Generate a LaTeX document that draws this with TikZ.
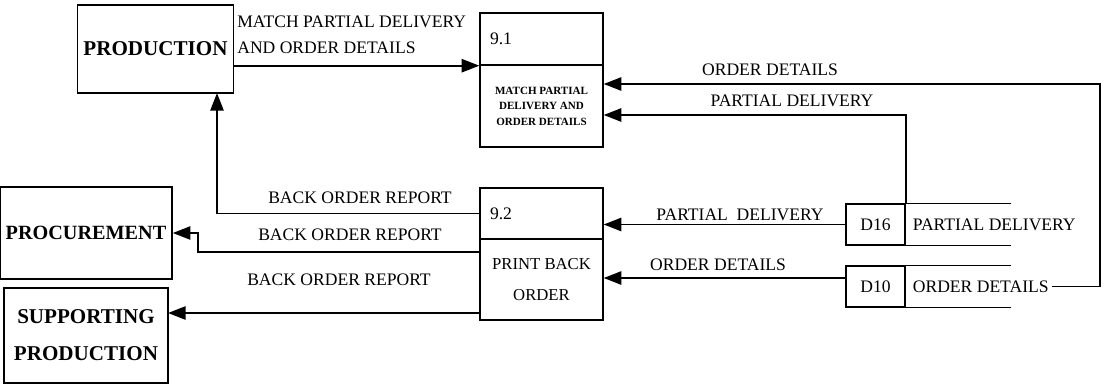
\documentclass[tikz,border=0pt]{standalone}
\usepackage{fontspec}
\setmainfont{Liberation Serif}
\usetikzlibrary{arrows.meta}
\tikzset{
  entity/.style={draw,line width=0.8pt,align=center,font=\fontsize{12}{15}\selectfont\bfseries},
  procid/.style={draw,line width=0.8pt,minimum width=2.46cm,text width=2.06cm,inner xsep=0.2cm,align=left,font=\fontsize{10}{12}\selectfont},
  procbody/.style={draw,line width=0.8pt,minimum width=2.46cm,align=center},
  storeid/.style={draw,line width=0.6pt,minimum width=1.18cm,minimum height=0.82cm,font=\fontsize{10}{12}\selectfont},
  storename/.style={anchor=west,inner sep=0pt,font=\fontsize{10}{12}\selectfont},
  flow/.style={line width=1.1pt,-{Triangle[length=10pt,width=7.5pt]}},
  flowlabel/.style={font=\fontsize{10}{14.7}\selectfont,align=left,inner sep=0pt}
}
\begin{document}
\begin{tikzpicture}[x=0.02cm,y=-0.02cm]
  \useasboundingbox (0,0) rectangle (1104,385);
  % external entities
  \node[entity,minimum width=3.1cm,minimum height=1.76cm] (prod) at (155.5,49) {PRODUCTION};
  \node[entity,minimum width=3.2cm,minimum height=1.84cm,font=\fontsize{11.5}{14}\selectfont\bfseries] (proc) at (86,233) {PROCUREMENT};
  \node[entity,minimum width=3.28cm,minimum height=1.9cm] (supp) at (86,335.5) {SUPPORTING\\[6pt]PRODUCTION};
  % processes
  \node[procid,minimum height=1.04cm] (p91id) at (541.5,39) {9.1};
  \node[procbody,minimum height=1.64cm,font=\fontsize{6.3}{8.8}\selectfont\bfseries] (p91) at (541.5,106) {MATCH PARTIAL\\DELIVERY AND\\ORDER DETAILS};
  \node[procid,minimum height=1.02cm] (p92id) at (541.5,213.5) {9.2};
  \node[procbody,minimum height=1.62cm,font=\fontsize{9.5}{17.6}\selectfont] (p92) at (541.5,279.5) {PRINT BACK\\ORDER};
  % data stores
  \node[storeid] (d16) at (875.5,224.5) {D16};
  \node[storeid] (d10) at (875.5,286.5) {D10};
  \draw[line width=0.6pt] (d16.north east) -- ++(105,0) (d16.south east) -- ++(105,0);
  \draw[line width=0.6pt] (d10.north east) -- ++(105,0) (d10.south east) -- ++(105,0);
  \node[storename] (d16name) at ([xshift=0.14cm]d16.east) {PARTIAL DELIVERY};
  \node[storename] (d10name) at ([xshift=0.14cm]d10.east) {ORDER DETAILS};
  % flows
  \coordinate (odturn) at (1100,84);
  \coordinate (pdturn) at (907,115);
  \coordinate (d10out) at ([yshift=0.17cm]d10.west);
  \coordinate (prodin) at (217,93);
  \coordinate (procturn) at (198,252);
  \coordinate (suppin) at (168,313);
  \draw[flow] (prod.east |- p91id.south) -- (p91id.south west);
  \draw[flow] ([xshift=2pt]d10name.east) -| (odturn) -- (odturn -| p91.east);
  \draw[flow] (d16.north east) |- (pdturn -| p91.east);
  \draw[flow] (d16.west) -- (d16.west -| p92id.east);
  \draw[flow] (d10out) -- (d10out -| p92.east);
  \draw[flow] (p92id.west) -| (prodin);
  \draw[flow] (p92.west |- procturn) -- (procturn) |- (proc.east);
  \draw[flow] (p92.west |- suppin) -- (suppin);
  % flow labels
  \node[flowlabel,anchor=west] (lmatch) at (237,35) {MATCH PARTIAL DELIVERY\\AND ORDER DETAILS};
  \node[flowlabel] (lodtop) at (770,70) {ORDER DETAILS};
  \node[flowlabel] (lpdtop) at (792,101) {PARTIAL DELIVERY};
  \node[flowlabel] (lpdlow) at (740,215) {PARTIAL~ DELIVERY};
  \node[flowlabel] (lodlow) at (718,265) {ORDER DETAILS};
  \node[flowlabel] (lbor1) at (360,198) {BACK ORDER REPORT};
  \node[flowlabel] (lbor2) at (350,235) {BACK ORDER REPORT};
  \node[flowlabel] (lbor3) at (339,280) {BACK ORDER REPORT};
\end{tikzpicture}
\end{document}
